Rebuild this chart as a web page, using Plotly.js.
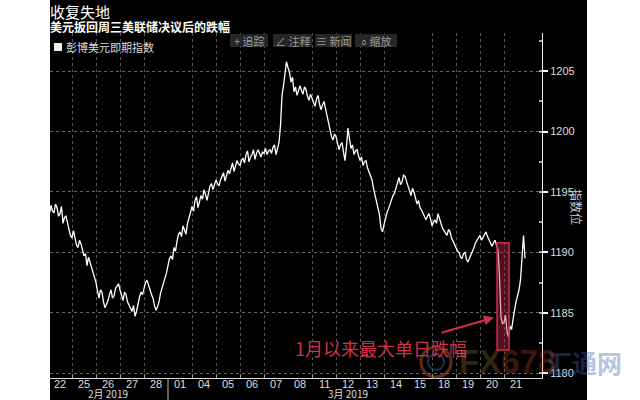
<!DOCTYPE html>
<html><head><meta charset="utf-8">
<script src="https://cdn.plot.ly/plotly-3.0.1.min.js"></script>
<style>html,body{margin:0;padding:0;background:#fff;}#chart{width:640px;height:400px;}</style>
</head><body><div id="chart"></div>
<script>
// ---- data ----
const dayLabels = ['22','25','26','27','28','01','04','05','06','07','08','11','12','13','14','15','18','19','20','21'];
const monthLabels = ['2月 2019','3月 2019'];
const monthCenters = [2.5, 12.5];
const yTicks = [1180,1185,1190,1195,1200,1205];
const samplesPerDay = 16;
// intraday readings of the Bloomberg Dollar Spot Index, one array per trading day
const feb22 = [1193.6,1193.2,1193.9,1193.4,1193.3,1194.0,1193.7,1193.0,1193.2,1193.8,1192.4,1192.9,1193.0,1192.3,1191.9,1191.4];
const feb25 = [1191.2,1191.8,1191.3,1190.6,1190.4,1191.0,1190.7,1190.1,1189.7,1189.9,1188.9,1189.6,1189.2,1188.6,1188.4,1187.9];
const feb26 = [1187.5,1186.8,1186.2,1186.9,1186.7,1185.9,1185.4,1185.7,1186.0,1186.5,1186.9,1186.2,1186.4,1187.0,1187.2,1187.4];
const feb27 = [1186.9,1186.3,1186.0,1186.7,1186.5,1185.9,1185.6,1185.3,1185.1,1185.6,1184.7,1185.1,1185.9,1186.3,1186.7,1186.5];
const feb28 = [1187.0,1187.5,1187.7,1187.2,1186.9,1186.5,1186.2,1185.6,1185.2,1185.5,1185.9,1186.6,1187.0,1187.4,1188.0,1188.3];
const mar01 = [1188.9,1189.5,1189.7,1189.4,1190.4,1190.1,1190.9,1191.5,1191.7,1191.3,1192.2,1191.8,1191.5,1192.4,1193.0,1193.3];
const mar04 = [1193.8,1193.4,1194.3,1194.6,1193.7,1194.1,1194.7,1194.4,1195.2,1194.8,1194.3,1194.9,1195.5,1195.7,1195.2,1195.6];
const mar05 = [1196.0,1195.7,1195.5,1196.0,1196.3,1196.6,1195.9,1196.4,1196.8,1196.5,1197.1,1197.4,1196.7,1197.2,1197.6,1197.3];
const mar06 = [1197.2,1197.6,1197.8,1197.4,1198.1,1198.4,1197.5,1197.9,1198.1,1198.5,1197.7,1198.2,1198.5,1198.2,1197.9,1198.3];
const mar07 = [1198.2,1198.6,1198.1,1198.4,1198.5,1198.2,1198.7,1198.9,1198.1,1198.6,1199.1,1200.5,1203.0,1203.8,1204.9,1205.8];
const mar08 = [1205.3,1204.9,1204.1,1204.5,1203.3,1203.7,1203.0,1203.4,1203.8,1203.4,1203.1,1203.7,1203.5,1202.9,1202.6,1203.1];
const mar11 = [1202.8,1202.4,1202.1,1202.7,1203.0,1202.3,1201.8,1202.2,1202.5,1201.9,1201.3,1200.6,1200.1,1199.6,1199.3,1199.8];
const mar12 = [1199.6,1199.0,1198.5,1198.9,1199.1,1198.3,1197.6,1198.8,1200.3,1199.4,1198.6,1198.9,1198.1,1198.4,1198.5,1198.0];
const mar13 = [1197.6,1197.9,1197.2,1197.5,1197.6,1197.0,1196.7,1196.4,1196.0,1195.3,1194.7,1194.3,1193.8,1193.1,1192.0,1191.7];
const mar14 = [1192.3,1192.9,1193.3,1193.6,1194.0,1194.5,1194.7,1194.9,1195.3,1195.8,1196.2,1195.6,1195.8,1196.4,1196.3,1195.9];
const mar15 = [1195.5,1195.1,1194.7,1195.3,1195.0,1194.5,1194.0,1194.3,1193.7,1193.5,1193.2,1192.9,1192.7,1193.0,1193.2,1192.8];
const mar18 = [1192.2,1192.5,1192.7,1192.4,1193.2,1192.8,1192.3,1192.0,1191.8,1191.6,1191.4,1191.9,1191.7,1191.2,1190.9,1190.6];
const mar19 = [1190.4,1190.1,1190.0,1189.6,1189.5,1189.9,1190.0,1189.4,1189.2,1189.5,1189.7,1190.1,1190.4,1190.8,1191.0,1191.3];
const mar20 = [1191.4,1191.0,1191.2,1191.5,1191.7,1191.3,1191.0,1190.7,1190.5,1190.8,1191.0,1190.6,1190.2,1188.0,1184.6,1184.1];
const mar21 = [1184.2,1184.8,1183.4,1183.0,1183.9,1183.6,1184.6,1185.2,1185.9,1186.4,1186.9,1187.7,1190.0,1191.4,1189.5];
const days = [feb22,feb25,feb26,feb27,feb28,mar01,mar04,mar05,mar06,mar07,mar08,mar11,mar12,mar13,mar14,mar15,mar18,mar19,mar20,mar21];

// time axis: trading-day index + fraction of the session
const xs = [], ys = [];
days.forEach((arr, d) => arr.forEach((v, k) => { xs.push(d + k / samplesPerDay); ys.push(v); }));

// ---- layout helpers (pixel -> paper) ----
const L = 50, R = 542, T = 33, B = 378;
const px = v => (v - L) / (R - L);
const py = v => (B - v) / (B - T);
const cjk = '"Noto Sans CJK SC", "Noto Sans", sans-serif';
const num = '"Liberation Sans Narrow", "Liberation Sans", Arial, sans-serif';

const shapes = [
  {type:'rect', xref:'paper', yref:'paper', x0:px(50), x1:px(587), y0:py(400), y1:py(0), fillcolor:'#000', line:{width:0}, layer:'below'},
  {type:'rect', xref:'paper', yref:'paper', x0:px(54), x1:px(62), y0:py(51), y1:py(43), fillcolor:'#eee', line:{width:0}},
  {type:'line', xref:'x', yref:'paper', x0:5, x1:5, y0:0, y1:py(400), line:{color:'#bbb', width:1}},
  {type:'rect', xref:'x', yref:'y', x0:18.71, x1:19.21, y0:1181.9, y1:1190.8, fillcolor:'rgba(200,40,70,0.4)', line:{color:'#c8304a', width:1.5}, layer:'above'},
  // watermark logo rings
  {type:'circle', xref:'paper', yref:'paper', x0:px(421), x1:px(451), y0:py(377), y1:py(347), line:{color:'rgba(200,100,40,0.45)', width:3}, fillcolor:'rgba(0,0,0,0)'},
  {type:'circle', xref:'paper', yref:'paper', x0:px(428), x1:px(444), y0:py(370), y1:py(354), line:{color:'rgba(60,100,170,0.5)', width:2}, fillcolor:'rgba(0,0,0,0)'}
];
const toolbar = [[230,268,'+ 追踪'],[273,312,'∠ 注释'],[315,352,'≡ 新闻'],[355,397,'⌕ 缩放']];
const annotations = [];
toolbar.forEach(b => {
  shapes.push({type:'rect', xref:'paper', yref:'paper', x0:px(b[0]), x1:px(b[1]), y0:py(47), y1:py(34), fillcolor:'#262626', line:{width:0}});
  annotations.push({xref:'paper', yref:'paper', x:px((b[0]+b[1])/2), y:py(41), text:b[2], showarrow:false, xanchor:'center', yanchor:'middle', font:{family:cjk, size:11, color:'#9a9a9a'}});
});
annotations.push(
  {xref:'paper', yref:'paper', x:px(48), y:py(11), text:'收复失地', showarrow:false, xanchor:'left', yanchor:'middle', font:{family:cjk, size:15, color:'#fff'}},
  {xref:'paper', yref:'paper', x:px(48), y:py(26), text:'<b>美元扳回周三美联储决议后的跌幅</b>', showarrow:false, xanchor:'left', yanchor:'middle', font:{family:cjk, size:12, color:'#fff'}},
  {xref:'paper', yref:'paper', x:px(64), y:py(47), text:'彭博美元即期指数', showarrow:false, xanchor:'left', yanchor:'middle', font:{family:cjk, size:11, color:'#ddd'}},
  {xref:'paper', yref:'paper', x:px(577), y:py(207), text:'指数位', showarrow:false, textangle:90, xanchor:'center', yanchor:'middle', font:{family:cjk, size:12, color:'#ccc'}},
  {xref:'x', yref:'y', x:13.875, y:1182.05, text:'1月以来最大单日跌幅', showarrow:false, xanchor:'center', yanchor:'middle', font:{family:cjk, size:18, color:'#d0304a'}},
  {xref:'x', yref:'y', x:18.58, y:1184.6, axref:'x', ayref:'y', ax:16.33, ay:1183.3, text:'', showarrow:true, arrowhead:2, arrowsize:1, arrowwidth:2, arrowcolor:'#d0304a'},
  {xref:'paper', yref:'paper', x:px(458), y:py(361), text:'<b><span style="color:rgba(200,150,60,0.5)">FX</span><span style="color:rgba(215,80,35,0.6)">678</span></b>', showarrow:false, xanchor:'left', yanchor:'middle', borderpad:0, font:{family:num, size:33, color:'rgba(200,150,60,0.5)'}},
  {xref:'paper', yref:'paper', x:px(584), y:py(362), text:'<b>汇通网</b>', showarrow:false, xanchor:'center', yanchor:'middle', borderpad:0, font:{family:cjk, size:25, color:'rgba(60,100,180,0.4)'}}
);
// day labels just under the axis, month labels below them
dayLabels.forEach((d,i) => annotations.push({xref:'x', yref:'paper', x:i+0.5, y:py(384), text:d, showarrow:false, xanchor:'center', yanchor:'middle', borderpad:0, font:{family:num, size:11, color:'#ddd'}}));
monthLabels.forEach((m,i) => annotations.push({xref:'x', yref:'paper', x:monthCenters[i], y:py(393), text:m, showarrow:false, xanchor:'center', yanchor:'middle', borderpad:0, font:{family:cjk, size:10, color:'#ddd'}}));

const trace = {type:'scatter', mode:'lines', x:xs, y:ys, line:{color:'#fff', width:1.3}, hoverinfo:'skip'};

const layout = {
  width:640, height:400,
  margin:{l:L, r:640-R, t:T, b:400-B, pad:0},
  paper_bgcolor:'#fff', plot_bgcolor:'#000',
  showlegend:false,
  xaxis:{range:[(L-48)/24, (R-48)/24], showticklabels:false, ticks:'', showgrid:false, zeroline:false,
         showline:true, linecolor:'#ddd', linewidth:1,
         minor:{tick0:0, dtick:1, showgrid:true, gridcolor:'#555', griddash:'dot', gridwidth:1, ticks:'inside', ticklen:4, tickcolor:'#999'}},
  yaxis:{side:'right', range:[1179.59, 1208.17], tickvals:yTicks, ticks:'outside', ticklen:5, tickwidth:2, tickcolor:'#fff',
         showline:true, linecolor:'#eee', linewidth:1, showgrid:true, gridcolor:'#666', griddash:'dot', zeroline:false,
         tickfont:{family:num, size:11, color:'#ddd'},
         minor:{tick0:1180, dtick:2.5, ticks:'inside', ticklen:3, tickcolor:'#aaa', showgrid:false}},
  shapes:shapes, annotations:annotations
};
Plotly.newPlot('chart', [trace], layout, {staticPlot:true, displayModeBar:false});
</script></body></html>
